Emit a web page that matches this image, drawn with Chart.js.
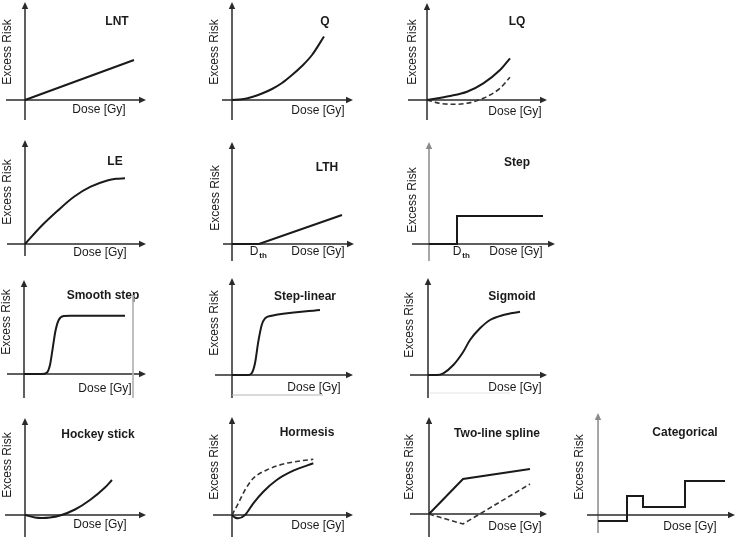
<!DOCTYPE html>
<html>
<head>
<meta charset="utf-8">
<script src="https://cdn.jsdelivr.net/npm/chart.js@4/dist/chart.umd.min.js"></script>
<style>
  html, body { margin: 0; padding: 0; background: #fff; overflow: hidden; }
  #wrap { position: relative; width: 738px; height: 539px; }
  #wrap canvas { position: absolute; }
</style>
</head>
<body>
<div id="wrap"></div>
<script>
// dose / risk values (1 unit ~ 100 px)
const lntDose = [0, 1.09];
const lntRisk = [0, 0.40];

const qDose = [0, 0.1, 0.2, 0.3, 0.4, 0.5, 0.6, 0.7, 0.8, 0.92];
const qRisk = [0, 0.007, 0.03, 0.065, 0.11, 0.17, 0.25, 0.34, 0.45, 0.635];

const lqDose = [0, 0.23, 0.40, 0.563, 0.73, 0.83];
const lqRisk = [0, 0.04, 0.083, 0.167, 0.30, 0.417];
const lqDose2 = [0, 0.13, 0.263, 0.40, 0.563, 0.73, 0.83];
const lqRisk2 = [0, -0.033, -0.043, -0.033, 0.017, 0.117, 0.227];

const leDose = [0, 0.157, 0.323, 0.49, 0.657, 0.823, 0.91, 1.0];
const leRisk = [0, 0.173, 0.33, 0.473, 0.573, 0.635, 0.652, 0.657];

const lthDose = [0, 0.27, 1.10];
const lthRisk = [0, 0, 0.29];

const stepDose = [0, 0.28, 0.28, 1.14];
const stepRisk = [0, 0, 0.28, 0.28];

const smoothDose = [0, 0.177, 0.227, 0.26, 0.287, 0.313, 0.347, 0.40, 0.46, 1.01];
const smoothRisk = [0, 0, 0.013, 0.09, 0.257, 0.423, 0.54, 0.58, 0.583, 0.583];

const slDose = [0, 0.163, 0.197, 0.23, 0.263, 0.297, 0.33, 0.397, 0.88];
const slRisk = [0, 0, 0.017, 0.117, 0.333, 0.5, 0.567, 0.593, 0.65];

const sigDose = [0, 0.087, 0.153, 0.253, 0.353, 0.42, 0.52, 0.62, 0.753, 0.92];
const sigRisk = [0, 0, 0.017, 0.1, 0.233, 0.35, 0.467, 0.55, 0.6, 0.633];

const hockeyDose = [0, 0.1, 0.17, 0.25, 0.35, 0.5, 0.65, 0.8, 0.87];
const hockeyRisk = [0, -0.025, -0.03, -0.025, -0.005, 0.055, 0.15, 0.275, 0.35];

const horDose = [0, 0.03, 0.063, 0.13, 0.213, 0.313, 0.447, 0.613, 0.813];
const horRisk = [0, -0.025, -0.033, 0, 0.117, 0.233, 0.35, 0.443, 0.517];
const horDose2 = [0, 0.063, 0.13, 0.213, 0.347, 0.513, 0.68, 0.813];
const horRisk2 = [0, 0.117, 0.25, 0.367, 0.45, 0.51, 0.54, 0.557];

const splDose = [0, 0.34, 1.01];
const splRisk = [0, 0.35, 0.45];
const splRisk2 = [0, -0.10, 0.30];

const catDose = [0, 0.29, 0.45, 0.87, 1.27];
const catRisk = [-0.06, 0.19, 0.08, 0.34, 0.34];

const pts = (xs, ys) => xs.map((v, i) => ({ x: v, y: ys[i] }));

const INK = '#1a1a1a';
const solid = (xs, ys, curved) => ({
  data: pts(xs, ys), borderColor: INK, borderWidth: 2, pointRadius: 0,
  tension: curved ? 0.4 : 0, cubicInterpolationMode: curved ? 'monotone' : 'default'
});
const dashed = (xs, ys, curved) => Object.assign(solid(xs, ys, curved), { borderDash: [5, 3], borderWidth: 1.6, borderColor: '#333' });
const faint = (xs, ys, col) => ({ data: pts(xs, ys), borderColor: col, borderWidth: 1, pointRadius: 0 });

// ox/oy = page position of the axis origin; text offsets in px from the origin
const panels = [
  { title: 'LNT', ox: 25, oy: 100, xAxis: [-19, 121], yAxis: [20, -98], t: [92, -78], dose: [74, 10], er: [-17, -48],
    sets: [solid(lntDose, lntRisk)] },
  { title: 'Q', ox: 232, oy: 100, xAxis: [-10, 121], yAxis: [20, -98], t: [93, -78], dose: [86, 11], er: [-17, -48],
    sets: [solid(qDose, qRisk, true)] },
  { title: 'LQ', ox: 427, oy: 100, xAxis: [-19, 120], yAxis: [20, -97], t: [90, -78], dose: [88, 12], er: [-14, -48],
    sets: [solid(lqDose, lqRisk, true), dashed(lqDose2, lqRisk2, true)] },
  { title: 'LE', ox: 25, oy: 244, xAxis: [-18, 121], yAxis: [12, -104], t: [90, -82], dose: [75, 9], er: [-17, -52],
    sets: [solid(leDose, leRisk, true)] },
  { title: 'LTH', ox: 232, oy: 244, xAxis: [-9, 122], yAxis: [17, -102], t: [95, -76], dose: [86, 8], er: [-16, -46], dth: 25,
    sets: [solid(lthDose, lthRisk)] },
  { title: 'Step', ox: 429, oy: 244, xAxis: [-17, 126], yAxis: [17, -102], t: [88, -81], dose: [87, 8], er: [-16, -44], dth: 31, yColor: '#8a8a8a',
    sets: [solid(stepDose, stepRisk)] },
  { title: 'Smooth step', ox: 24, oy: 374, xAxis: [-17, 122], yAxis: [24, -94], t: [79, -78], dose: [81, 15], er: [-17, -52],
    sets: [solid(smoothDose, smoothRisk, true), faint([1.09, 1.09], [0.79, -0.24], '#b5b5b5')] },
  { title: 'Step-linear', ox: 232, oy: 375, xAxis: [-17, 121], yAxis: [23, -97], t: [73, -78], dose: [82, 13], er: [-17, -52],
    sets: [solid(slDose, slRisk, true), faint([0, 0.91], [-0.2, -0.2], '#b5b5b5')] },
  { title: 'Sigmoid', ox: 428, oy: 375, xAxis: [-18, 119], yAxis: [23, -97], t: [84, -78], dose: [87, 13], er: [-18, -50],
    sets: [solid(sigDose, sigRisk, true), faint([0.02, 0.82], [-0.18, -0.18], '#e2e2e2')] },
  { title: 'Hockey stick', ox: 25, oy: 515, xAxis: [-20, 121], yAxis: [22, -97], t: [73, -80], dose: [75, 10], er: [-17, -50],
    sets: [solid(hockeyDose, hockeyRisk, true)] },
  { title: 'Hormesis', ox: 232, oy: 515, xAxis: [-19, 121], yAxis: [22, -98], t: [75, -82], dose: [86, 11], er: [-17, -48],
    sets: [solid(horDose, horRisk, true), dashed(horDose2, horRisk2, true)] },
  { title: 'Two-line spline', ox: 429, oy: 514, xAxis: [-19, 118], yAxis: [23, -97], t: [68, -80], dose: [86, 13], er: [-19, -47],
    sets: [solid(splDose, splRisk), dashed(splDose, splRisk2)] },
  { title: 'Categorical', ox: 598, oy: 515, xAxis: [-11, 137], yAxis: [18, -102], t: [87, -82], dose: [92, 12], er: [-18, -48], yColor: '#8a8a8a', w: 170,
    sets: [Object.assign(solid(catDose, catRisk), { stepped: true })] }
];

const FONT = '"Liberation Sans", Arial, sans-serif';

function arrow(ctx, x0, y0, x1, y1, col) {
  const a = Math.atan2(y1 - y0, x1 - x0), L = 7, W = 3.2;
  ctx.strokeStyle = col; ctx.fillStyle = col; ctx.lineWidth = 1.5;
  ctx.beginPath(); ctx.moveTo(x0, y0); ctx.lineTo(x1 - L * Math.cos(a), y1 - L * Math.sin(a)); ctx.stroke();
  ctx.beginPath();
  ctx.moveTo(x1, y1);
  ctx.lineTo(x1 - L * Math.cos(a) + W * Math.sin(a), y1 - L * Math.sin(a) - W * Math.cos(a));
  ctx.lineTo(x1 - L * Math.cos(a) - W * Math.sin(a), y1 - L * Math.sin(a) + W * Math.cos(a));
  ctx.closePath(); ctx.fill();
}

const decor = {
  id: 'decor',
  beforeDatasetsDraw(chart, args, o) {
    const { ctx, scales: { x, y } } = chart;
    const ox = x.getPixelForValue(0), oy = y.getPixelForValue(0);
    ctx.save();
    arrow(ctx, ox, oy + o.yAxis[0], ox, oy + o.yAxis[1], o.yColor || '#2a2a2a');
    arrow(ctx, ox + o.xAxis[0], oy, ox + o.xAxis[1], oy, '#2a2a2a');
    ctx.fillStyle = '#1a1a1a';
    ctx.textAlign = 'center'; ctx.textBaseline = 'middle';
    ctx.font = 'bold 12px ' + FONT;
    ctx.fillText(o.title, ox + o.t[0], oy + o.t[1]);
    ctx.font = '12px ' + FONT;
    ctx.fillText('Dose [Gy]', ox + o.dose[0], oy + o.dose[1]);
    if (o.dth != null) {
      ctx.fillText('D', ox + o.dth - 3, oy + o.dose[1]);
      ctx.font = 'bold 8px ' + FONT;
      ctx.fillText('th', ox + o.dth + 6, oy + o.dose[1] + 4);
      ctx.font = '12px ' + FONT;
    }
    ctx.translate(ox + o.er[0], oy + o.er[1]);
    ctx.rotate(-Math.PI / 2);
    ctx.fillText('Excess Risk', 0, 0);
    ctx.restore();
  }
};

const wrap = document.getElementById('wrap');
panels.forEach(p => {
  const w = p.w || 160, h = 140, left = 30, top = 110;
  const cv = document.createElement('canvas');
  cv.width = w; cv.height = h;
  cv.style.left = (p.ox - left) + 'px';
  cv.style.top = (p.oy - top) + 'px';
  cv.style.width = w + 'px'; cv.style.height = h + 'px';
  wrap.appendChild(cv);
  new Chart(cv.getContext('2d'), {
    type: 'line',
    data: { datasets: p.sets },
    options: {
      responsive: false,
      animation: false,
      layout: { padding: 0 },
      scales: {
        x: { type: 'linear', display: false, min: -left / 100, max: (w - left) / 100 },
        y: { type: 'linear', display: false, min: -(h - top) / 100, max: top / 100 }
      },
      plugins: {
        legend: { display: false },
        tooltip: { enabled: false },
        decor: { title: p.title, xAxis: p.xAxis, yAxis: p.yAxis, t: p.t, dose: p.dose, er: p.er, dth: p.dth, yColor: p.yColor }
      }
    },
    plugins: [decor]
  });
});
</script>
</body>
</html>
